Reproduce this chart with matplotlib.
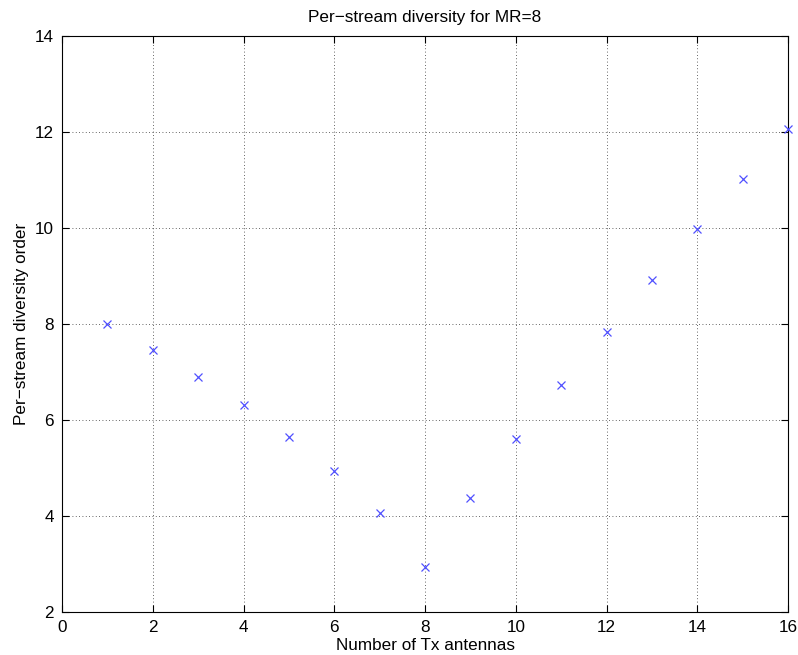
import matplotlib
matplotlib.use("Agg")
import matplotlib.pyplot as plt

# per-stream diversity order vs number of Tx antennas, MR = 8
n_tx = [1, 2, 3, 4, 5, 6, 7, 8, 9, 10, 11, 12, 13, 14, 15, 16]
diversity = [8.0, 7.46, 6.89, 6.31, 5.65, 4.93, 4.07, 2.93,
             4.375, 5.60, 6.74, 7.84, 8.92, 9.98, 11.02, 12.06]
xticks = list(range(0, 17, 2))
yticks = list(range(2, 15, 2))

plt.rcParams["font.family"] = ["Liberation Sans", "DejaVu Sans"]

fig = plt.figure(figsize=(7.98, 6.55), dpi=100)
ax = fig.add_axes([0.0777, 0.0656, 0.9098, 0.8794])

ax.plot(n_tx, diversity, linestyle="none", marker="x", color="#5050ff",
        markersize=6, markeredgewidth=0.9, clip_on=False, zorder=3)

ax.set_xlim(0, 16)
ax.set_ylim(2, 14)
ax.set_xticks(xticks)
ax.set_yticks(yticks)
ax.tick_params(direction="in", top=True, right=True, labelsize=12.3, length=5, width=0.8)
ax.tick_params(axis="x", pad=6)
ax.tick_params(axis="y", pad=6)
ax.grid(True, linestyle=(0, (1, 3)), color="black", linewidth=0.6, alpha=0.8)
for s in ax.spines.values():
    s.set_linewidth(0.8)

ax.set_xlabel("Number of Tx antennas", fontsize=12.3, labelpad=2)
ax.set_ylabel("Per\u2212stream diversity order", fontsize=12.3, labelpad=4)
ax.set_title("Per\u2212stream diversity for MR=8", fontsize=12.3, pad=10)

fig.savefig("out.png", dpi=100)
